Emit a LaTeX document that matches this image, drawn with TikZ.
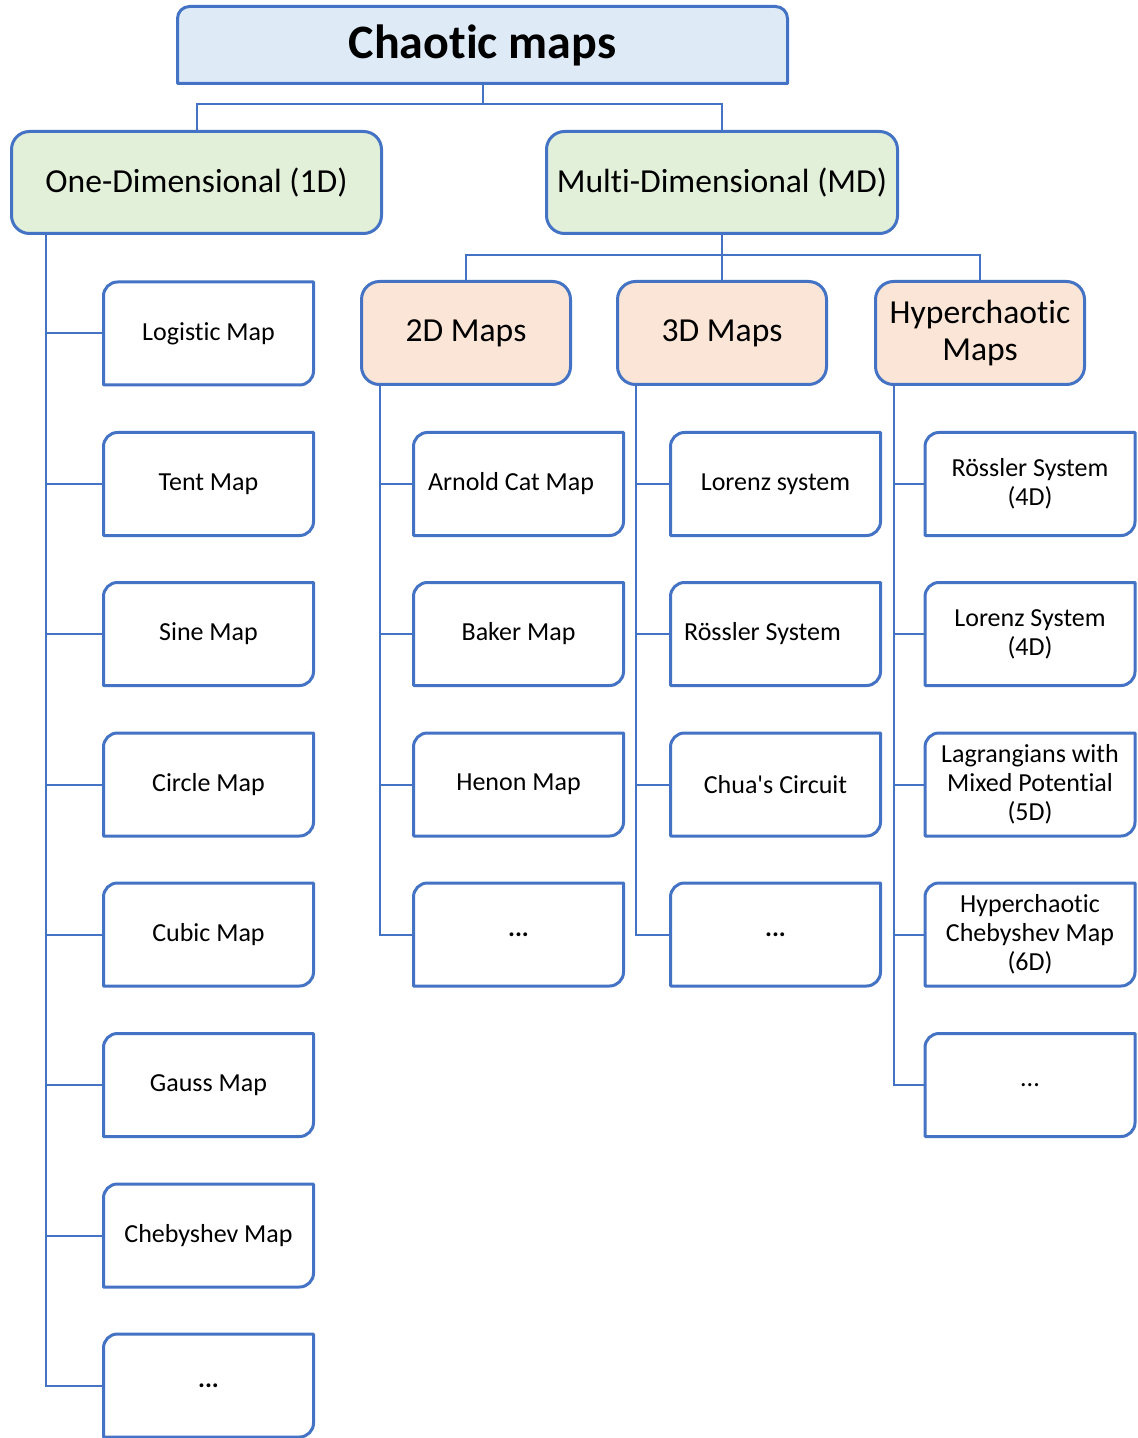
\documentclass[tikz,border=0pt]{standalone}
\usepackage{fontspec}
\setmainfont{Carlito}[Ligatures={NoCommon}]
\usetikzlibrary{calc}

\definecolor{edgeblue}{HTML}{4472C4}
\definecolor{topfill}{HTML}{DEEBF7}
\definecolor{greenfill}{HTML}{E2F0D9}
\definecolor{orangefill}{HTML}{FBE5D6}

\tikzset{
  outline/.style={draw=edgeblue, line width=1.5pt, line join=round},
  link/.style={draw=edgeblue, line width=1pt},
  leaf/.style={rectangle, minimum width=105pt, minimum height=51.5pt,
    inner sep=0pt, outer sep=0pt, align=center,
    font=\fontsize{13}{14.5}\selectfont},
  rootbox/.style={rectangle, minimum width=305pt, minimum height=38.5pt,
    inner sep=0pt, outer sep=0pt, font=\fontsize{24}{28}\selectfont\bfseries},
  groupbox/.style={rectangle, outline, fill=greenfill, rounded corners=9pt,
    minimum height=51pt, inner sep=0pt, outer sep=0pt,
    font=\fontsize{16.8}{18.5}\selectfont},
  classbox/.style={rectangle, outline, fill=orangefill, rounded corners=9pt,
    minimum width=104.5pt, minimum height=51.5pt, inner sep=0pt, outer sep=0pt,
    align=center, font=\fontsize{16.8}{18.5}\selectfont},
}

% leaf box: rounded top-left and bottom-right corners, square elsewhere
\newcommand\leafnode[4]{%
  \node[leaf] (#1) at (#2,#3) {#4};
  \draw[outline] (#1.south west) -- ([yshift=-7pt]#1.north west)
    arc[start angle=180, end angle=90, radius=7pt] -- (#1.north east)
    -- ([yshift=7pt]#1.south east)
    arc[start angle=0, end angle=-90, radius=7pt] -- cycle;
}

\begin{document}
\begin{tikzpicture}[x=0.5pt, y=-0.5pt]
\clip (0,0) rectangle (1137,1438);
\fill[white] (0,0) rectangle (1137,1438);

% root
\node[rootbox] (root) at (482.5,45) {};
\draw[outline, fill=topfill] (root.south west) -- ([yshift=-6pt]root.north west)
  arc[start angle=180, end angle=90, radius=6pt] -- ([xshift=-6pt]root.north east)
  arc[start angle=90, end angle=0, radius=6pt] -- (root.south east) -- cycle;
\node[rootbox] at (root.center) {Chaotic maps};

% first level
\node[groupbox, minimum width=185pt] (one) at (196.5,182.5) {One-Dimensional (1D)};
\node[groupbox, minimum width=175.5pt] (multi) at (722,182.5) {Multi-Dimensional (MD)};

\draw[link] (root.south) -- ++(0,21) coordinate (rj) -| (one.north);
\draw[link] (rj) -| (multi.north);

% second level
\node[classbox] (two) at (466,333) {2D Maps};
\node[classbox] (three) at (722,333) {3D Maps};
\node[classbox] (hyper) at (980,333) {Hyperchaotic\\Maps};

\draw[link] (multi.south) -- ++(0,22) coordinate (mj) -| (two.north);
\draw[link] (mj) -- (three.north);
\draw[link] (mj) -| (hyper.north);

% one-dimensional maps
\leafnode{a1}{208.5}{333.5}{Logistic Map}
\leafnode{a2}{208.5}{484}{Tent Map}
\leafnode{a3}{208.5}{634}{Sine Map}
\leafnode{a4}{208.5}{784.5}{Circle Map}
\leafnode{a5}{208.5}{934.5}{Cubic Map}
\leafnode{a6}{208.5}{1085}{Gauss Map}
\leafnode{a7}{208.5}{1235.5}{Chebyshev Map}
\leafnode{a8}{208.5}{1385.5}{\textbf{...}}

% 2D maps
\leafnode{b1}{518.5}{484}{Arnold Cat Map\hspace*{7.5pt}}
\leafnode{b2}{518.5}{634}{Baker Map}
\leafnode{b3}{518.5}{784.5}{Henon Map}
\leafnode{b4}{518.5}{934.5}{\textbf{...}}

% 3D maps
\leafnode{c1}{775.5}{484}{Lorenz system}
\leafnode{c2}{775.5}{634}{Rössler System\hspace*{13pt}}
\leafnode{c3}{775.5}{784.5}{Chua\textquotesingle s Circuit}
\leafnode{c4}{775.5}{934.5}{\textbf{...}}

% hyperchaotic maps
\leafnode{d1}{1030}{484}{Rössler System\\(4D)}
\leafnode{d2}{1030}{634}{Lorenz System\\(4D)}
\leafnode{d3}{1030}{784.5}{Lagrangians with\\Mixed Potential\\(5D)}
\leafnode{d4}{1030}{934.5}{Hyperchaotic\\Chebyshev Map\\(6D)}
\leafnode{d5}{1030}{1085}{...}

% trunks
\coordinate (ta) at (46,0);
\coordinate (tb) at (380,0);
\coordinate (tc) at (636,0);
\coordinate (td) at (894,0);

\draw[link] (ta |- one.south) |- (a8.west);
\foreach \n in {a1,a2,a3,a4,a5,a6,a7} \draw[link] (ta |- \n.west) -- (\n.west);

\draw[link] (tb |- two.south) |- (b4.west);
\foreach \n in {b1,b2,b3} \draw[link] (tb |- \n.west) -- (\n.west);

\draw[link] (tc |- three.south) |- (c4.west);
\foreach \n in {c1,c2,c3} \draw[link] (tc |- \n.west) -- (\n.west);

\draw[link] (td |- hyper.south) |- (d5.west);
\foreach \n in {d1,d2,d3,d4} \draw[link] (td |- \n.west) -- (\n.west);
\end{tikzpicture}
\end{document}
